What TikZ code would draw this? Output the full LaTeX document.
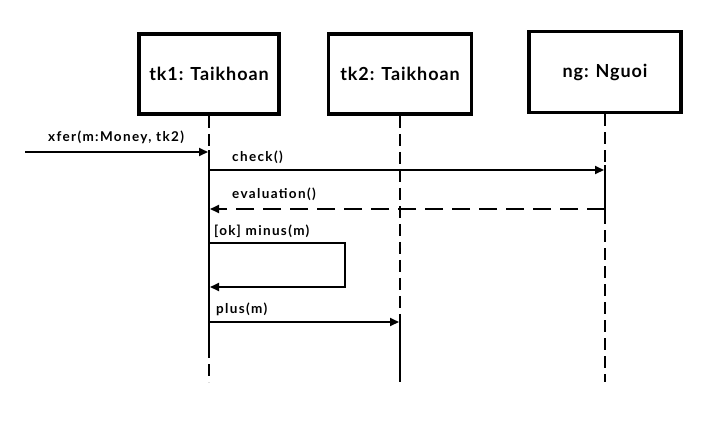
\documentclass[tikz,border=0pt]{standalone}
\usepackage{fontspec}
\setmainfont{Lato}
\newfontfamily\lblfont{Lato}[LetterSpace=10]
\newfontfamily\objfont{Lato}[LetterSpace=5]
\usetikzlibrary{arrows.meta}
\begin{document}
\begin{tikzpicture}[x=1pt,y=-1pt,
  obj/.style={draw,line width=3.5pt,minimum height=80pt,font=\objfont\fontsize{18}{20}\selectfont\bfseries,inner sep=0pt},
  lifesolid/.style={line width=2.5pt},
  lifedash/.style={line width=2.5pt,dash pattern=on 12pt off 6pt},
  msg/.style={line width=2pt,-{Triangle[length=9pt,width=8pt]}},
  retmsg/.style={msg,dash pattern=on 18pt off 9pt},
  lbl/.style={font=\lblfont\fontsize{13.5}{15}\selectfont\bfseries,anchor=base west,inner sep=0pt}]
\path[use as bounding box] (0,0) rectangle (727,431);
% objects
\node[obj,minimum width=140pt] (tk1) at (209,74) {tk1: Taikhoan};
\node[obj,minimum width=143pt] (tk2) at (400,74) {tk2: Taikhoan};
\node[obj,minimum width=152pt,minimum height=81pt] (ng) at (605,72) {ng: Nguoi};
% lifeline coordinates
\coordinate (a1) at (209,150);
\coordinate (a1e) at (209,346);
\coordinate (l1e) at (209,382);
\coordinate (b1) at (400,318);
\coordinate (l2e) at (400,382);
\coordinate (c1) at (605,165);
\coordinate (c1e) at (605,212);
\coordinate (l3e) at (605,382);
% lifelines
\draw[lifedash] (tk1.south) -- (a1);
\draw[lifesolid] (a1) -- (a1e);
\draw[lifedash] (a1e) -- (l1e);
\draw[lifedash] (tk2.south) -- (b1);
\draw[lifesolid] (b1) -- (l2e);
\draw[lifedash] (ng.south) -- (c1);
\draw[lifesolid] (c1) -- (c1e);
\draw[lifedash] (c1e) -- (l3e);
% message coordinates
\coordinate (xs) at (25,152);
\coordinate (xe) at (208,152);
\coordinate (cs) at (209,170);
\coordinate (ce) at (604,170);
\coordinate (es) at (605,209);
\coordinate (ee) at (210,209);
\coordinate (ms) at (209,243);
\coordinate (mr) at (345,243);
\coordinate (mb) at (345,287);
\coordinate (me) at (210,287);
\coordinate (ps) at (209,322);
\coordinate (pe) at (399,322);
% messages
\draw[msg] (xs) -- (xe);
\draw[msg] (cs) -- (ce);
\draw[retmsg] (es) -- (ee);
\draw[msg] (ms) -- (mr) -- (mb) -- (me);
\draw[msg] (ps) -- (pe);
% labels
\node[lbl] (lx) at (48,141) {xfer(m:Money, tk2)};
\node[lbl] (lc) at (232,161) {check()};
\node[lbl] (le) at (232,198) {evaluation()};
\node[lbl] (lm) at (214,235) {[ok] minus(m)};
\node[lbl] (lp) at (216,313) {plus(m)};
\end{tikzpicture}
\end{document}
